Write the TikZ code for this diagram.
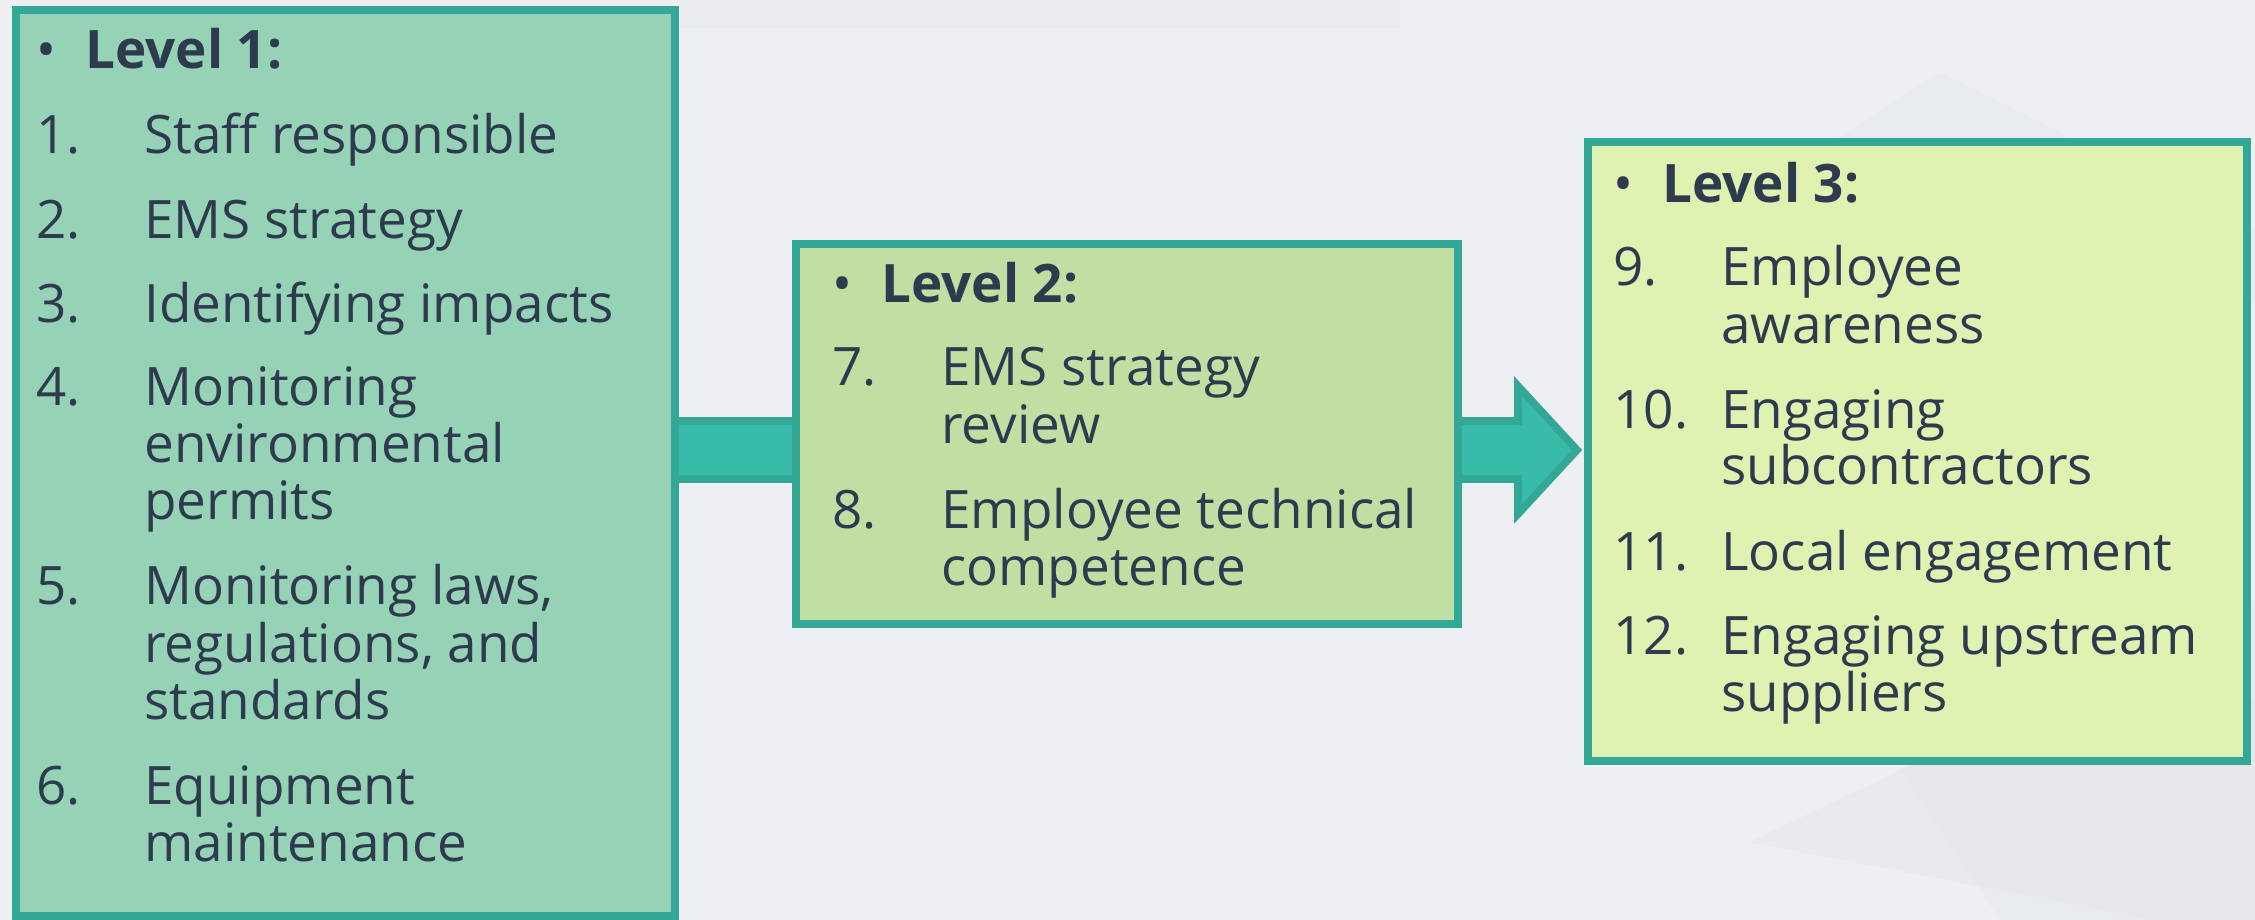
\documentclass[tikz,border=0pt]{standalone}
\usepackage{fontspec}
\setmainfont{Open Sans}
\usetikzlibrary{calc}
\usetikzlibrary{positioning}

\definecolor{bgback}{HTML}{EDEFF2}
\definecolor{bgshade}{HTML}{E3E6EA}
\definecolor{tealline}{HTML}{33A896}
\definecolor{tealfill}{HTML}{38BBA8}
\definecolor{fillone}{HTML}{95D2B6}
\definecolor{filltwo}{HTML}{C1DFA2}
\definecolor{fillthree}{HTML}{DFF2B2}
\definecolor{inktext}{HTML}{2E3A4D}

\tikzset{
 lvbox/.style={draw=tealline, line width=3.8pt, inner sep=0pt},
 lvtxt/.style={anchor=base west, inner sep=0pt, text=inktext,
   font=\fontsize{26.5pt}{28.75pt}\selectfont},
 lvhead/.style={lvtxt, font=\fontsize{26.5pt}{28.75pt}\selectfont\bfseries},
}

\begin{document}
\begin{tikzpicture}[x=.5pt, y=-.5pt]
\useasboundingbox (0,0) rectangle (2255,920);
% background
\fill[bgback] (0,0) rectangle (2255,920);
\fill[bgshade, opacity=.35] (680,0) rectangle (1400,28);
\fill[bgshade, opacity=.3] (1940,72) -- (1584,300) -- (2255,300) -- (2255,230) -- cycle;
\fill[bgshade, opacity=.45] (1750,842) -- (2255,600) -- (2255,920) -- (2150,920) -- cycle;
\fill[bgshade, opacity=.3] (1900,768) -- (2255,700) -- (2255,920) -- (2000,920) -- cycle;

% arrow behind the boxes
\coordinate (atail) at (640,450);
\coordinate (ahead) at (1577,450);
\draw[tealline, fill=tealfill, line width=3.8pt, line join=miter]
 ($(atail)+(0,-29)$) -- ($(ahead)+(-59,-29)$) -- ($(ahead)+(-59,-64)$) -- (ahead)
 -- ($(ahead)+(-59,64)$) -- ($(ahead)+(-59,29)$) -- ($(atail)+(0,29)$) -- cycle;

% the three boxes
\node[lvbox, fill=fillone, minimum width=329.5pt, minimum height=453pt] (lvone) at (345.5,463) {};
\node[lvbox, fill=filltwo, minimum width=331pt, minimum height=190pt] (lvtwo) at (1127,434) {};
\node[lvbox, fill=fillthree, minimum width=329.5pt, minimum height=309.5pt] (lvthree) at (1917.5,451.5) {};

% level 1
\node[lvtxt] (bone) at (36,69) {•};
\node[lvhead] (hone) at (85,69) {Level 1:};
\foreach \n/\y in {1./154, 2./238, 3./322, 4./405, 5./604, 6./804}
 \node[lvtxt] (none-\y) at (36,\y) {\n};
\foreach \y/\t in {154/Staff responsible, 238/EMS strategy, 322/Identifying impacts,
  405/Monitoring, 462/environmental, 519/permits,
  604/{Monitoring laws,}, 662/{regulations, and}, 719/standards,
  804/Equipment, 861/maintenance}
 \node[lvtxt] (tone-\y) at (144,\y) {\t};

% level 2
\node[lvtxt] (btwo) at (832,302) {•};
\node[lvhead] (htwo) at (881,302) {Level 2:};
\foreach \n/\y in {7./385, 8./528}
 \node[lvtxt] (ntwo-\y) at (832,\y) {\n};
\foreach \y/\t in {385/EMS strategy, 443/review, 528/Employee technical, 585/competence}
 \node[lvtxt] (ttwo-\y) at (941,\y) {\t};

% level 3
\node[lvtxt] (bthree) at (1613,202) {•};
\node[lvhead] (hthree) at (1662,202) {Level 3:};
\foreach \n/\y in {9./285, 10./428, 11./570, 12./654}
 \node[lvtxt] (nthree-\y) at (1613,\y) {\n};
\foreach \y/\t in {285/Employee, 343/awareness, 428/Engaging, 484/subcontractors,
  570/Local engagement, 654/Engaging upstream, 711/suppliers}
 \node[lvtxt] (tthree-\y) at (1721,\y) {\t};
\end{tikzpicture}
\end{document}
